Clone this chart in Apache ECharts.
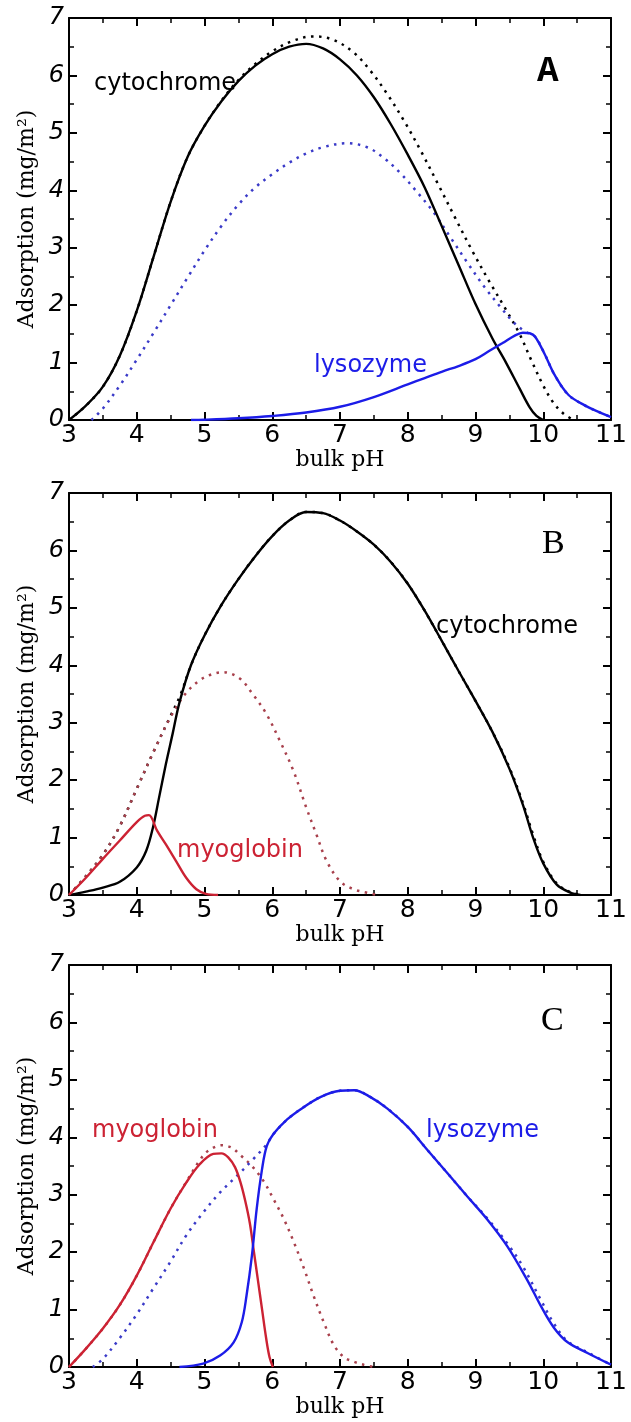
<!DOCTYPE html>
<html>
<head>
<meta charset="utf-8">
<script src="https://cdn.jsdelivr.net/npm/echarts@6/dist/echarts.min.js"></script>
<style>
html, body { margin: 0; padding: 0; background: #fff; }
#chart { width: 631px; height: 1422px; }
</style>
</head>
<body>
<div id="chart"></div>
<script>
// 吸附量 vs bulk pH，三个面板 A / B / C
// 每条曲线: [pH, 吸附量 mg/m2]
const xTicks = [3, 4, 5, 6, 7, 8, 9, 10, 11]
const yTicks = [0, 1, 2, 3, 4, 5, 6, 7]

// Panel A: cytochrome + lysozyme
const cytA_mix = [[3,0],[3.25,0.25],[3.5,0.58],[3.75,1.12],[4.0,1.9],[4.25,2.85],[4.5,3.8],[4.75,4.58],[5.0,5.12],[5.25,5.55],[5.5,5.9],[5.75,6.17],[6.0,6.37],[6.25,6.5],[6.5,6.55],[6.75,6.47],[7.0,6.28],[7.25,6.0],[7.5,5.62],[7.75,5.15],[8.0,4.62],[8.25,4.05],[8.5,3.38],[8.75,2.7],[9.0,2.02],[9.25,1.42],[9.45,1.0],[9.65,0.55],[9.8,0.22],[9.9,0.07],[10.0,0]]
const cytA_alone = [[3,0],[3.25,0.25],[3.5,0.58],[3.75,1.12],[4.0,1.9],[4.25,2.85],[4.5,3.8],[4.75,4.58],[5.0,5.12],[5.25,5.56],[5.5,5.92],[5.75,6.2],[6.0,6.42],[6.3,6.6],[6.6,6.68],[6.9,6.62],[7.2,6.4],[7.45,6.08],[7.7,5.67],[7.95,5.2],[8.2,4.67],[8.45,4.1],[8.7,3.52],[8.95,2.95],[9.2,2.42],[9.45,1.92],[9.65,1.5],[9.82,1.05],[10.0,0.6],[10.15,0.3],[10.3,0.11],[10.45,0]]
const lysA_alone = [[3.33,0],[3.5,0.2],[3.75,0.6],[4.0,1.05],[4.25,1.52],[4.5,2.0],[4.75,2.48],[5.0,2.95],[5.25,3.38],[5.5,3.75],[5.75,4.05],[6.0,4.28],[6.25,4.48],[6.5,4.64],[6.75,4.75],[7.1,4.82],[7.4,4.75],[7.64,4.57],[7.89,4.3],[8.13,3.98],[8.38,3.62],[8.63,3.18],[8.88,2.74],[9.13,2.32],[9.38,1.95],[9.58,1.68],[9.75,1.53],[9.88,1.45],[10.02,1.15],[10.17,0.78],[10.37,0.44],[10.62,0.25],[10.8,0.15],[11,0.05]]
const lysA_mix = [[4.8,0],[5.0,0.005],[5.5,0.03],[6.0,0.07],[6.5,0.13],[7.0,0.23],[7.5,0.4],[8.0,0.62],[8.25,0.73],[8.5,0.84],[8.75,0.94],[9.0,1.06],[9.2,1.2],[9.4,1.34],[9.58,1.47],[9.7,1.52],[9.8,1.51],[9.88,1.45],[10.02,1.15],[10.17,0.78],[10.37,0.44],[10.62,0.25],[10.8,0.15],[11,0.05]]

// Panel B: cytochrome + myoglobin
const cytB_mix = [[3,0],[3.25,0.06],[3.5,0.13],[3.75,0.23],[4.0,0.48],[4.14,0.77],[4.24,1.18],[4.33,1.7],[4.43,2.28],[4.53,2.81],[4.63,3.35],[4.8,4.0],[5.0,4.52],[5.25,5.05],[5.5,5.5],[5.75,5.9],[6.0,6.25],[6.25,6.52],[6.5,6.67],[6.75,6.65],[7.0,6.52],[7.25,6.33],[7.5,6.1],[7.75,5.8],[8.0,5.42],[8.25,4.95],[8.5,4.43],[8.75,3.9],[9.0,3.38],[9.25,2.84],[9.5,2.2],[9.7,1.57],[9.85,1.0],[10.0,0.55],[10.2,0.18],[10.4,0.04],[10.55,0]]
const cytB_alone = [[3,0],[3.25,0.33],[3.5,0.7],[3.75,1.2],[4.0,1.85],[4.25,2.5],[4.5,3.12],[4.65,3.5],[4.8,4.0],[5.0,4.52],[5.25,5.05],[5.5,5.5],[5.75,5.9],[6.0,6.25],[6.25,6.52],[6.5,6.67],[6.75,6.65],[7.0,6.52],[7.25,6.33],[7.5,6.1],[7.75,5.8],[8.0,5.42],[8.25,4.95],[8.5,4.43],[8.75,3.9],[9.0,3.38],[9.25,2.84],[9.5,2.22],[9.7,1.6],[9.85,1.05],[10.0,0.58],[10.2,0.2],[10.4,0.05],[10.55,0]]
const myoB_mix = [[3,0],[3.25,0.3],[3.5,0.63],[3.75,0.95],[4.0,1.27],[4.12,1.38],[4.18,1.39],[4.3,1.12],[4.43,0.88],[4.58,0.59],[4.73,0.3],[4.88,0.1],[5.02,0.02],[5.2,0]]
const myoB_alone = [[3,0],[3.25,0.33],[3.5,0.7],[3.75,1.2],[4.0,1.85],[4.25,2.5],[4.5,3.1],[4.73,3.52],[4.93,3.74],[5.1,3.84],[5.27,3.88],[5.52,3.77],[5.71,3.5],[5.91,3.16],[6.11,2.69],[6.31,2.17],[6.5,1.53],[6.65,1.06],[6.8,0.6],[7.0,0.24],[7.2,0.1],[7.4,0.04],[7.55,0]]

// Panel C: myoglobin + lysozyme
const myoC_mix = [[3,0],[3.25,0.32],[3.5,0.67],[3.75,1.08],[4.0,1.59],[4.25,2.18],[4.5,2.76],[4.73,3.21],[4.93,3.53],[5.13,3.71],[5.25,3.72],[5.35,3.65],[5.45,3.48],[5.53,3.22],[5.6,2.9],[5.67,2.5],[5.73,2.0],[5.79,1.5],[5.85,1.0],[5.91,0.5],[5.96,0.17],[6.01,0]]
const myoC_alone = [[3,0],[3.25,0.32],[3.5,0.67],[3.75,1.08],[4.0,1.59],[4.25,2.18],[4.5,2.76],[4.73,3.22],[4.93,3.6],[5.05,3.76],[5.25,3.86],[5.4,3.82],[5.52,3.7],[5.7,3.5],[5.87,3.24],[6.02,2.92],[6.17,2.58],[6.32,2.17],[6.47,1.71],[6.61,1.24],[6.76,0.78],[6.91,0.38],[7.06,0.17],[7.21,0.09],[7.35,0.04],[7.5,0]]
const lysC_alone = [[3.35,0],[3.5,0.14],[3.74,0.49],[3.99,0.9],[4.24,1.36],[4.49,1.82],[4.73,2.29],[4.98,2.69],[5.23,3.04],[5.48,3.33],[5.72,3.62],[5.92,3.88],[6.02,4.06],[6.22,4.31],[6.42,4.49],[6.71,4.7],[7.0,4.81],[7.21,4.82],[7.45,4.7],[7.7,4.5],[8.0,4.18],[8.29,3.78],[8.59,3.37],[8.88,2.97],[9.18,2.58],[9.47,2.15],[9.7,1.75],[9.95,1.2],[10.16,0.75],[10.36,0.45],[10.66,0.25],[11.0,0.04]]
const lysC_mix = [[4.63,0],[4.98,0.06],[5.23,0.2],[5.43,0.43],[5.55,0.78],[5.62,1.24],[5.7,1.94],[5.77,2.75],[5.85,3.45],[5.92,3.85],[6.02,4.06],[6.22,4.31],[6.42,4.49],[6.71,4.7],[7.0,4.81],[7.21,4.82],[7.45,4.7],[7.7,4.5],[8.0,4.18],[8.29,3.78],[8.59,3.37],[8.88,2.97],[9.18,2.56],[9.47,2.1],[9.77,1.5],[9.97,1.05],[10.16,0.68],[10.36,0.43],[10.66,0.24],[11.0,0.04]]

const BLACK = '#000'
const BLUE = '#1c1ce8'
const RED = '#cc2233'
const BLUE_DOT = '#3a3ac8'
const RED_DOT = '#a8404c'

const gridTops = [18, 493, 965]
const gridH = 402

const chart = echarts.init(document.getElementById('chart'), null, {renderer: 'canvas'})

function xAxisOf(i, top) {
    return {
        type: 'value', gridIndex: i, position: top ? 'top' : 'bottom',
        min: xTicks[0], max: xTicks[xTicks.length - 1], interval: 1,
        name: top ? '' : 'bulk pH', nameLocation: 'middle', nameGap: 27,
        nameTextStyle: {fontFamily: 'DejaVu Serif', fontSize: 22, color: '#000'},
        axisLine: {show: true, onZero: false, lineStyle: {color: '#000', width: 2}},
        axisTick: {show: true, inside: true, length: 8, lineStyle: {color: '#000', width: 2}},
        minorTick: {show: true, splitNumber: 2, length: 5, lineStyle: {color: '#000', width: 1.5}},
        splitLine: {show: false},
        axisLabel: {show: !top, color: '#000', fontFamily: 'DejaVu Sans', fontSize: 25, margin: 3,
            showMinLabel: true, showMaxLabel: true}
    }
}
function yAxisOf(i, right) {
    return {
        type: 'value', gridIndex: i, position: right ? 'right' : 'left',
        min: yTicks[0], max: yTicks[yTicks.length - 1], interval: 1,
        name: right ? '' : 'Adsorption (mg/m²)', nameLocation: 'middle', nameGap: 29,
        nameTextStyle: {fontFamily: 'DejaVu Serif', fontSize: 22, color: '#000'},
        axisLine: {show: true, onZero: false, lineStyle: {color: '#000', width: 2}},
        axisTick: {show: true, inside: true, length: 8, lineStyle: {color: '#000', width: 2}},
        minorTick: {show: true, splitNumber: 2, length: 5, lineStyle: {color: '#000', width: 1.5}},
        splitLine: {show: false},
        axisLabel: {show: !right, color: '#000', fontFamily: 'DejaVu Sans', fontStyle: 'italic', fontSize: 24, margin: 5,
            showMinLabel: true, showMaxLabel: true}
    }
}
function line(data, i, color, dotted) {
    return {
        type: 'line', data: data, xAxisIndex: i, yAxisIndex: i,
        showSymbol: false, symbol: 'none', smooth: 0.35, silent: true,
        z: dotted ? 2 : 3,
        lineStyle: {color: color, width: dotted ? 2.5 : 2.4, type: dotted ? [2.5, 5.5] : 'solid'}
    }
}
function label(text, x, y, color, font) {
    return {
        type: 'text', left: x, top: y, z: 10,
        style: {text: text, fill: color, font: font || '24px "DejaVu Sans"'}
    }
}

const option = {
    animation: false,
    backgroundColor: '#fff',
    grid: gridTops.map(t => ({left: 69, width: 542, top: t, height: gridH, containLabel: false})),
    xAxis: [0, 1, 2].map(i => xAxisOf(i, false)).concat([0, 1, 2].map(i => xAxisOf(i, true))),
    yAxis: [0, 1, 2].map(i => yAxisOf(i, false)).concat([0, 1, 2].map(i => yAxisOf(i, true))),
    series: [
        line(cytA_alone, 0, BLACK, true),
        line(lysA_alone, 0, BLUE_DOT, true),
        line(cytA_mix, 0, BLACK, false),
        line(lysA_mix, 0, BLUE, false),

        line(cytB_alone, 1, BLACK, true),
        line(myoB_alone, 1, RED_DOT, true),
        line(cytB_mix, 1, BLACK, false),
        line(myoB_mix, 1, RED, false),

        line(myoC_alone, 2, RED_DOT, true),
        line(lysC_alone, 2, BLUE_DOT, true),
        line(myoC_mix, 2, RED, false),
        line(lysC_mix, 2, BLUE, false)
    ],
    graphic: [
        label('cytochrome', 94, 72, BLACK),
        label('lysozyme', 314, 354, BLUE),
        label('A', 537, 54, BLACK, 'bold 36px "Liberation Mono"'),
        label('cytochrome', 436, 615, BLACK),
        label('myoglobin', 177, 839, RED),
        label('B', 542, 527, BLACK, '34px "Liberation Serif"'),
        label('myoglobin', 92, 1119, RED),
        label('lysozyme', 426, 1119, BLUE),
        label('C', 541, 1004, BLACK, '34px "Liberation Serif"')
    ]
}
chart.setOption(option)
</script>
</body>
</html>
